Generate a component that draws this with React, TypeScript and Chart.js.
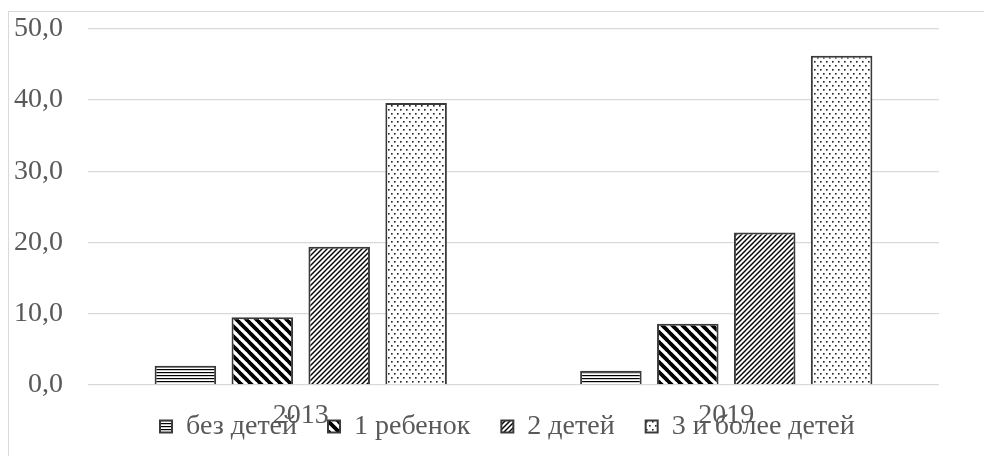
import React, { useEffect, useRef } from "react";
import { Chart, registerables } from "chart.js";

Chart.register(...registerables);

const categories = ["2013", "2019"];
const seriesNames = ["без детей", "1 ребенок", "2 детей", "3 и более детей"];
const noChildren = [2.7, 2.0];
const oneChild = [9.5, 8.6];
const twoChildren = [19.4, 21.4];
const threePlus = [39.6, 46.2];
const yMin = 0;
const yMax = 50;
const yStep = 10;

const FONT = "'Liberation Serif', 'Times New Roman', serif";
const FONT_SIZE = 28;
const TEXT = "#595959";
const LEGEND_PAD = 31;
const LEGEND_TEXT_Y = 414.5;
const LEGEND_FIRST_X = 151;

function makePattern(kind: string): CanvasPattern | string {
  const c = document.createElement("canvas");
  let w = 10, h = 10;
  if (kind === "hlines") { w = 6; h = 3; }
  if (kind === "wideDown") { w = 10; h = 10; }
  if (kind === "narrowUp") { w = 5; h = 5; }
  if (kind === "dots") { w = 6; h = 8; }
  c.width = w; c.height = h;
  const g = c.getContext("2d")!;
  g.fillStyle = "#ffffff";
  g.fillRect(0, 0, w, h);
  g.fillStyle = "#000000";
  g.strokeStyle = "#000000";
  if (kind === "hlines") {
    g.fillRect(0, 0, w, 1.2);
  } else if (kind === "wideDown") {
    g.lineWidth = 3.8;
    for (const k of [-10, 0, 10]) {
      g.beginPath(); g.moveTo(k - 1, -1); g.lineTo(k + 11, 11); g.stroke();
    }
  } else if (kind === "narrowUp") {
    g.lineWidth = 1.4;
    for (const k of [-5, 0, 5]) {
      g.beginPath(); g.moveTo(k - 1, 6); g.lineTo(k + 6, -1); g.stroke();
    }
  } else if (kind === "dots") {
    g.fillStyle = "#222222";
    g.fillRect(1, 1, 1.6, 1.6);
    g.fillRect(4, 5, 1.6, 1.6);
  }
  const p = g.createPattern(c, "repeat");
  return p || "#888";
}

const legendPlace = {
  id: "legendPlace",
  beforeDraw(chart: any) {
    const lg = chart.legend;
    if (!lg || !lg.lineWidths) return;
    const itemH = Math.max(FONT_SIZE, 12);
    lg.top = LEGEND_TEXT_Y - LEGEND_PAD - itemH / 2;
    lg.bottom = lg.top + LEGEND_PAD + itemH + 20;
    lg.height = lg.bottom - lg.top;
    lg.left = 0;
    lg.right = 2 * LEGEND_FIRST_X - LEGEND_PAD + lg.lineWidths[0];
    lg.width = lg.right - lg.left;
  },
};

export default function App() {
  const ref = useRef<HTMLCanvasElement | null>(null);
  useEffect(() => {
    if (!ref.current) return;
    const patterns = ["hlines", "wideDown", "narrowUp", "dots"].map(makePattern);
    const values = [noChildren, oneChild, twoChildren, threePlus];
    const chart = new Chart(ref.current, {
      type: "bar",
      data: {
        labels: categories,
        datasets: seriesNames.map((name, i) => ({
          label: name,
          data: values[i],
          backgroundColor: patterns[i] as any,
          borderColor: "#3a3a3a",
          borderWidth: 2,
          categoryPercentage: 0.723,
          barPercentage: 0.8,
        })),
      },
      plugins: [legendPlace],
      options: {
        animation: false,
        responsive: false,
        layout: { padding: { left: 0, right: 45, top: 16, bottom: 4.4 } },
        plugins: {
          tooltip: { enabled: false },
          legend: {
            position: "bottom",
            maxHeight: 5,
            labels: {
              color: TEXT,
              font: { family: FONT, size: FONT_SIZE },
              boxWidth: 12,
              boxHeight: 12,
              padding: LEGEND_PAD,
            },
          },
        },
        scales: {
          x: {
            grid: { display: false, drawTicks: false },
            border: { display: false },
            ticks: { color: TEXT, font: { family: FONT, size: FONT_SIZE }, padding: 14, autoSkip: false, maxRotation: 0 },
          },
          y: {
            min: yMin,
            max: yMax,
            grid: { color: "#d9d9d9", lineWidth: 1.3, drawTicks: true, tickLength: 25, tickColor: "rgba(0,0,0,0)" },
            border: { display: false },
            ticks: {
              stepSize: yStep,
              color: TEXT,
              font: { family: FONT, size: FONT_SIZE },
              padding: 0,
              callback: (v: any) => Number(v).toFixed(1).replace(".", ","),
            },
            afterFit: (s: any) => { s.width = 79; },
          },
        },
      },
    });
    return () => chart.destroy();
  }, []);
  return (
    <div
      style={{
        position: "absolute",
        left: 8,
        top: 11,
        width: 976,
        height: 445,
        overflow: "hidden",
        borderTop: "1px solid #d9d9d9",
        borderLeft: "1px solid #d9d9d9",
        boxSizing: "border-box",
        background: "#fff",
      }}
    >
      <canvas ref={ref} width={975} height={444} style={{ display: "block" }} />
    </div>
  );
}
